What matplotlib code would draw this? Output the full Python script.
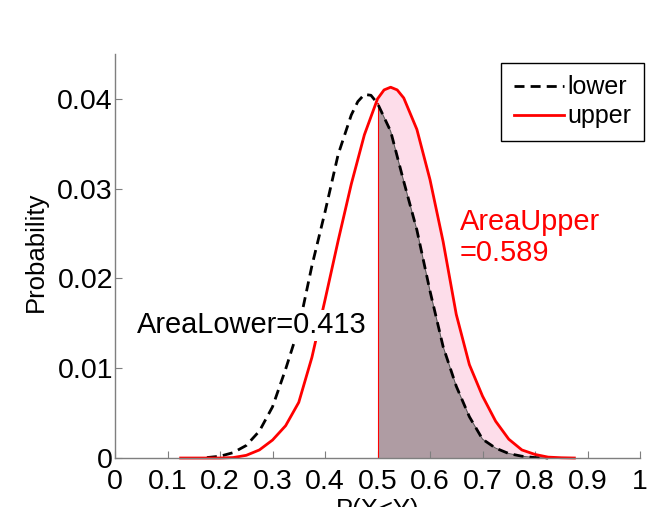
import numpy as np
import matplotlib
matplotlib.use('Agg')
import matplotlib.pyplot as plt

plt.rcParams['font.family'] = ['Liberation Sans', 'DejaVu Sans']

# density of P(X<Y), lower bound
x_lower = [0.175, 0.2, 0.225, 0.25, 0.275, 0.3, 0.325, 0.35, 0.375, 0.4, 0.425, 0.45, 0.4625, 0.475, 0.4875,
           0.5, 0.525, 0.55, 0.575, 0.6, 0.625, 0.65, 0.675, 0.7, 0.725, 0.75, 0.775, 0.8, 0.825]
p_lower = [0.00005, 0.0002, 0.0006, 0.0014, 0.003, 0.0057, 0.0099, 0.0145, 0.0214, 0.0274, 0.0338, 0.0382, 0.0397, 0.0405, 0.0404,
           0.0395, 0.0364, 0.0308, 0.0254, 0.0186, 0.0124, 0.0080, 0.0046, 0.0021, 0.0011, 0.0005, 0.0002, 0.00005, 0.0]

# density of P(X<Y), upper bound
x_upper = [0.125, 0.15, 0.175, 0.2, 0.225, 0.25, 0.275, 0.3, 0.325, 0.35, 0.375, 0.4, 0.425, 0.45, 0.475,
           0.5, 0.5125, 0.525, 0.5375, 0.55, 0.575, 0.6, 0.625, 0.65, 0.675, 0.7, 0.725, 0.75, 0.775, 0.8, 0.825, 0.85, 0.875]
p_upper = [0.0, 0.0, 0.0, 0.0, 0.00005, 0.0003, 0.0009, 0.002, 0.0036, 0.0062, 0.0112, 0.0176, 0.0242, 0.0305, 0.0360,
           0.0400, 0.0410, 0.0413, 0.0410, 0.0401, 0.0366, 0.0310, 0.0241, 0.0160, 0.0104, 0.0069, 0.0041, 0.0021, 0.0009, 0.0004, 0.0001, 0.00003, 0.0]

area_lower = 0.413
area_upper = 0.589
cut = 0.5

xl = np.array(x_lower); pl = np.array(p_lower)
xu = np.array(x_upper); pu = np.array(p_upper)

fig = plt.figure(figsize=(6.55, 5.07), dpi=100)
ax = fig.add_axes([0.1756, 0.0966, 0.8015, 0.7969])

# shaded areas right of the cut
ax.fill_between(xu, 0, pu, where=xu >= cut, color='#FDDDEA', lw=0)
ax.fill_between(xl, 0, pl, where=xl >= cut, color='#AF9CA3', lw=0)
ax.plot(xl[xl >= cut], pl[xl >= cut], color='#555555', lw=0.7)
ax.plot([cut, cut], [0, pl[xl == cut][0]], color='red', lw=0.8)

ax.plot(xl, pl, color='black', lw=2, dashes=(3.6, 2.2), label='lower', clip_on=False)
ax.plot(xu, pu, color='red', lw=2, label='upper', clip_on=False)

ax.text(0.042, 0.0139, 'AreaLower=%.3f' % area_lower, fontsize=20.9, color='black', zorder=5,
        bbox=dict(facecolor='white', edgecolor='none', pad=1))
ax.text(0.657, 0.0254, 'AreaUpper', fontsize=20.9, color='red')
ax.text(0.657, 0.0219, '=%.3f' % area_upper, fontsize=20.9, color='red')

ax.set_xlim(0, 1)
ax.set_ylim(0, 0.045)
ax.set_xticks(np.arange(0, 1.01, 0.1))
ax.set_xticklabels(['0', '0.1', '0.2', '0.3', '0.4', '0.5', '0.6', '0.7', '0.8', '0.9', '1'])
ax.set_yticks([0, 0.01, 0.02, 0.03, 0.04])
ax.set_yticklabels(['0', '0.01', '0.02', '0.03', '0.04'])
ax.tick_params(direction='in', length=5, width=0.8, color='#7f7f7f', labelsize=20.5, pad=8)
ax.tick_params(axis='y', pad=1.5)
for s in ['top', 'right']:
    ax.spines[s].set_visible(False)
for s in ['left', 'bottom']:
    ax.spines[s].set_color('#7f7f7f')
    ax.spines[s].set_linewidth(1)

ax.set_ylabel('Probability', fontsize=18.5)
ax.yaxis.set_label_coords(-0.128, 0.51)
ax.set_xlabel('P(X<Y)', fontsize=18.5, labelpad=2)

leg = ax.legend(loc='upper right', bbox_to_anchor=(1.008, 0.978), fontsize=18, frameon=True,
                fancybox=False, framealpha=1, edgecolor='black', handlelength=2.0,
                handletextpad=0.15, borderpad=0.5, labelspacing=0.2, borderaxespad=0)
leg.get_frame().set_linewidth(1)

fig.savefig('out.png', dpi=100)
